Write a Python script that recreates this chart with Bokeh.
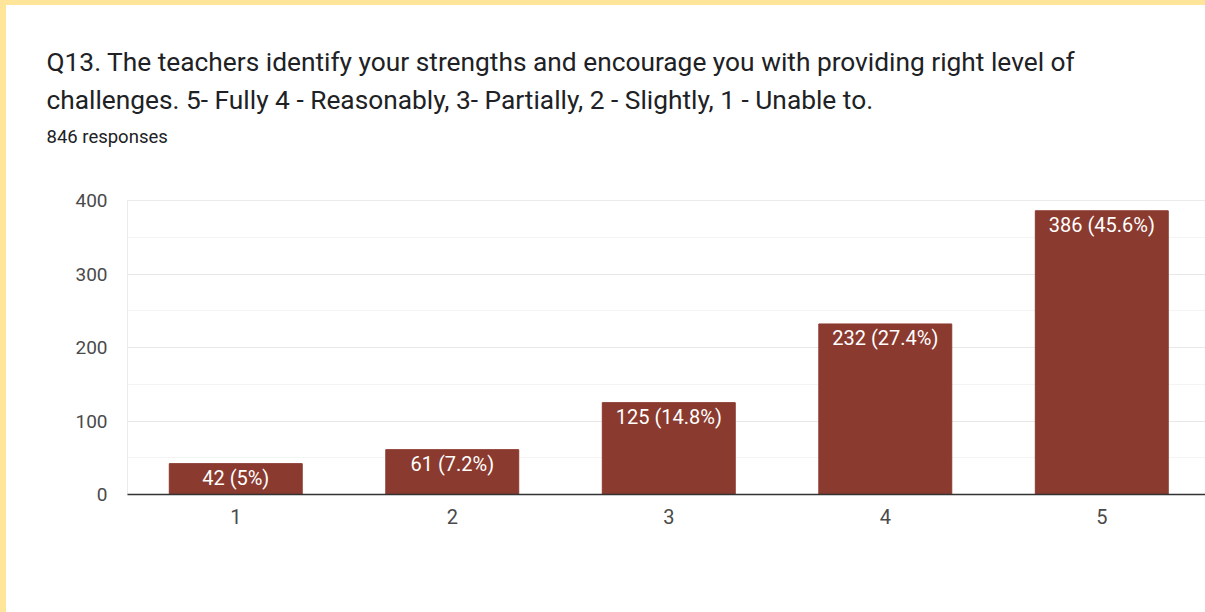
from bokeh.plotting import figure
from bokeh.models import ColumnDataSource, Title, FixedTicker, Range1d
from bokeh.embed import file_html
from bokeh.resources import INLINE
from bokeh.core.properties import value

ratings = [1, 2, 3, 4, 5]
counts = [42, 61, 125, 232, 386]
bar_labels = ["42 (5%)", "61 (7.2%)", "125 (14.8%)", "232 (27.4%)", "386 (45.6%)"]
y_ticks = [0, 100, 200, 300, 400]
y_minor = [50, 150, 250, 350]
title_line1 = "Q13. The teachers identify your strengths and encourage you with providing right level of"
title_line2 = "challenges. 5- Fully 4 - Reasonably, 3- Partially, 2 - Slightly, 1 - Unable to."
subtitle = "846 responses"

FONT = "Roboto"
BAR = "#8a3a2e"
TXT = "#202124"
AXT = "#4a4a4a"
FRAME_YELLOW = "#fee59a"

src = ColumnDataSource(dict(x=ratings, top=counts, label=bar_labels))

p = figure(width=1205, height=612, output_backend="svg", toolbar_location=None,
           x_range=Range1d(0.5, 5.479), y_range=Range1d(0, 400), title=None,
           min_border_left=121, min_border_right=6, min_border_bottom=123,
           min_border_top=195)
p.styles = {"border-top": f"5px solid {FRAME_YELLOW}",
            "border-left": f"6px solid {FRAME_YELLOW}"}

p.vbar(x="x", top="top", width=0.614, bottom=0, source=src,
       fill_color=BAR, line_color=BAR)
p.text(x="x", y="top", text="label", source=src, text_align="center",
       text_baseline="top", y_offset=2, text_color="white",
       text_font=value(FONT), text_font_size="20px")

# spacer between subtitle and plot frame
p.add_layout(Title(text=" ", text_font=FONT, text_font_size="10px",
                   align="left", standoff=34), "above")
p.add_layout(Title(text=subtitle, text_font=FONT, text_font_size="18.5px",
                   text_font_style="normal", text_color=TXT,
                   align="left", offset=-81, standoff=12), "above")
p.add_layout(Title(text=title_line2, text_font=FONT, text_font_size="26.3px",
                   text_font_style="normal", text_color=TXT,
                   align="left", offset=-81, standoff=6), "above")
p.add_layout(Title(text=title_line1, text_font=FONT, text_font_size="26.3px",
                   text_font_style="normal", text_color=TXT,
                   align="left", offset=-81, standoff=6), "above")

p.outline_line_color = "#ebebeb"
p.background_fill_color = "white"
p.border_fill_color = "white"

p.yaxis.ticker = FixedTicker(ticks=y_ticks, minor_ticks=y_minor)
p.yaxis.axis_line_color = None
p.yaxis.major_tick_line_color = None
p.yaxis.minor_tick_line_color = None
p.yaxis.major_tick_out = 0
p.yaxis.minor_tick_out = 0
p.yaxis.major_label_standoff = 20
p.yaxis.major_label_text_font = FONT
p.yaxis.major_label_text_font_size = "19px"
p.yaxis.major_label_text_color = AXT

p.xaxis.ticker = FixedTicker(ticks=ratings)
p.xaxis.axis_line_color = "#333333"
p.xaxis.axis_line_width = 1.5
p.xaxis.major_tick_line_color = None
p.xaxis.minor_tick_line_color = None
p.xaxis.major_tick_out = 0
p.xaxis.minor_tick_out = 0
p.xaxis.major_label_standoff = 14
p.xaxis.major_label_text_font = FONT
p.xaxis.major_label_text_font_size = "20px"
p.xaxis.major_label_text_color = AXT

p.xgrid.grid_line_color = None
p.ygrid.grid_line_color = "#e8e8e8"
p.ygrid.minor_grid_line_color = "#f4f4f4"

open("out.html", "w").write(file_html(p, INLINE))
